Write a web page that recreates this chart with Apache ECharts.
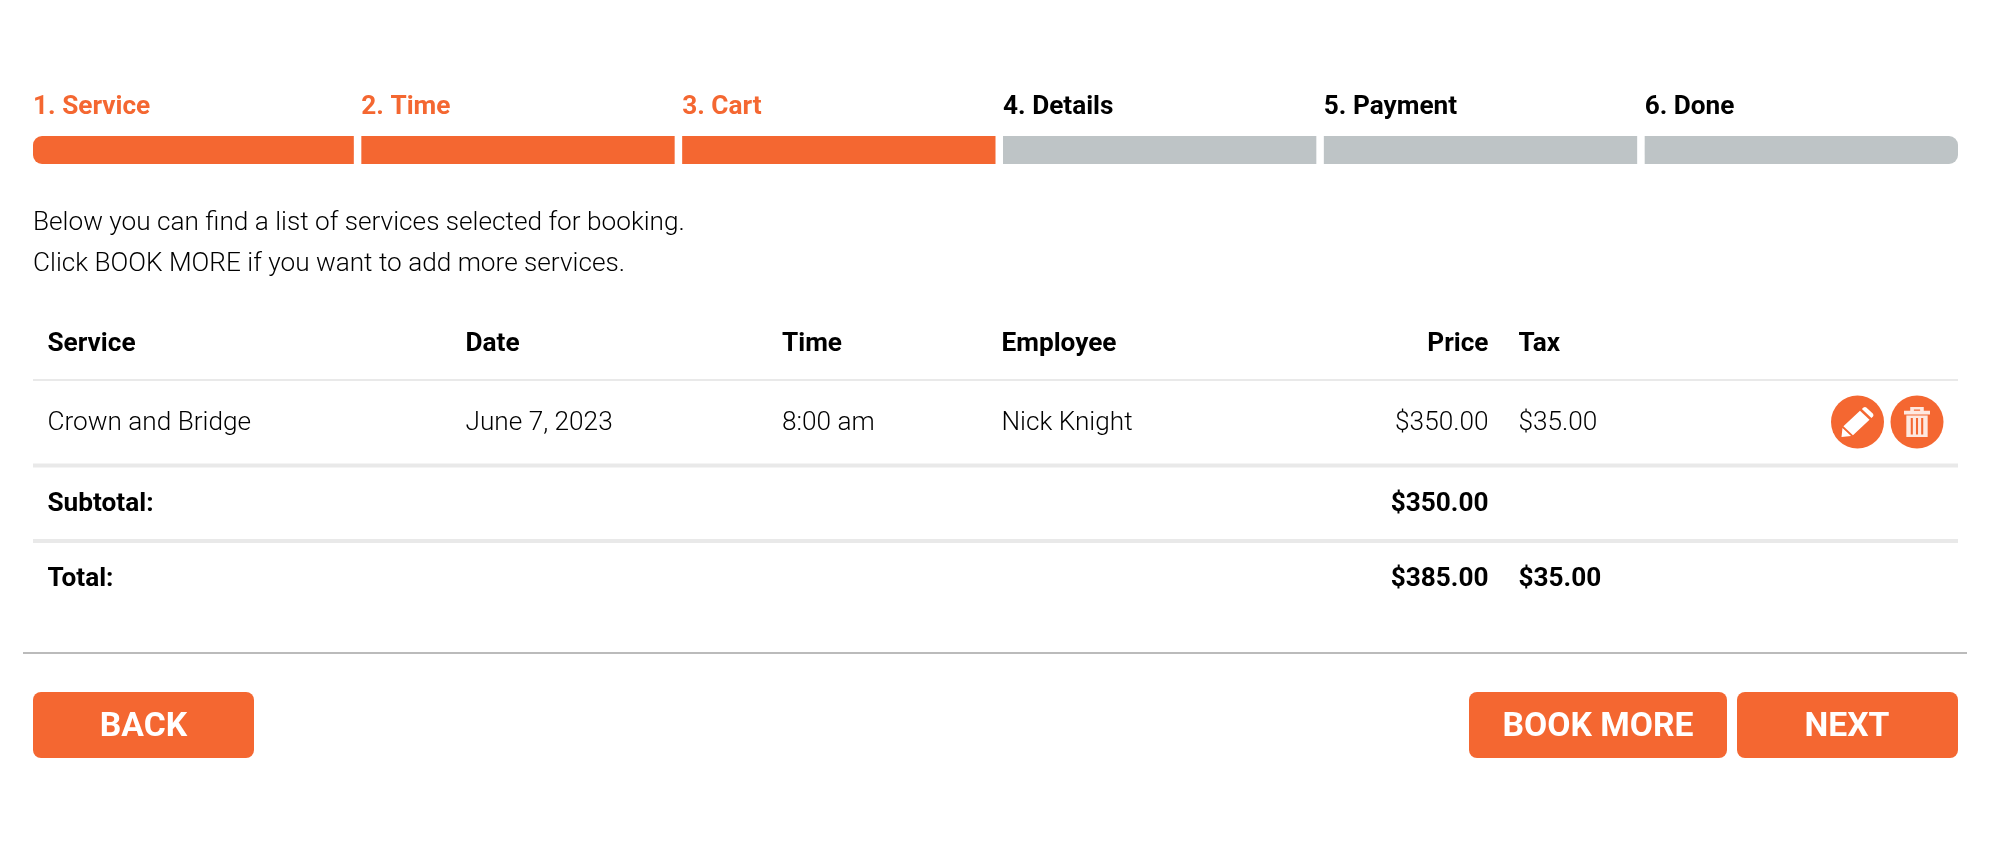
<!DOCTYPE html>
<html>
<head>
<meta charset="utf-8">
<title>Booking cart</title>
<script src="https://cdn.jsdelivr.net/npm/echarts@6/dist/echarts.min.js"></script>
<style>
  html, body { margin: 0; padding: 0; background: #fff; }
  #chart { width: 2000px; height: 862px; }
</style>
</head>
<body>
<div id="chart"></div>
<script>
// data
const stepLabels = ['1. Service', '2. Time', '3. Cart', '4. Details', '5. Payment', '6. Done']
const stepsDone = [true, true, true, false, false, false]
const introLines = [
  'Below you can find a list of services selected for booking.',
  'Click BOOK MORE if you want to add more services.'
]
const tableHeader = ['Service', 'Date', 'Time', 'Employee', 'Price', 'Tax']
const tableItem = ['Crown and Bridge', 'June 7, 2023', '8:00 am', 'Nick Knight', '$350.00', '$35.00']
const tableSubtotal = ['Subtotal:', '', '', '', '$350.00', '']
const tableTotal = ['Total:', '', '', '', '$385.00', '$35.00']
const buttonLabels = ['BACK', 'BOOK MORE', 'NEXT']

// colours and layout
const ORANGE = '#f46731'
const GREY = '#bec4c6'
const FONT = 'Roboto'
const TEXT_SIZE = 26.2

const columnX = [47.5, 465.5, 782, 1001.5, 1488.5, 1518.5]
const columnAlign = ['left', 'left', 'left', 'left', 'right', 'left']
const rowY = [344.5, 423.5, 504, 579.5]
const rowWeight = [700, 300, 700, 700]
const tableRows = [tableHeader, tableItem, tableSubtotal, tableTotal]

const introY = [223.5, 264.5]
const rules = [
  { x1: 33, x2: 1958, y: 380, size: 2, color: '#e9e9e9' },
  { x1: 33, x2: 1958, y: 465.5, size: 4, color: '#e9e9e9' },
  { x1: 33, x2: 1958, y: 541, size: 4, color: '#e9e9e9' },
  { x1: 23, x2: 1967, y: 653, size: 2, color: '#bbbbbb' }
]
const buttonBoxes = [
  { x1: 33, x2: 254, cx: 143.5 },
  { x1: 1469, x2: 1727, cx: 1598 },
  { x1: 1737, x2: 1958, cx: 1847 }
]
const BUTTON_TOP = 692
const BUTTON_BOTTOM = 758
const actionIcons = [
  {
    x: 1857.5, y: 422, w: 32, h: 30, opacity: 1,
    path: 'M6 64L58 12L88 42L36 94ZM0 100L3 70L30 97ZM64 6L69 1Q74-2 78 1L99 22Q102 27 99 31L94 36Z'
  },
  {
    x: 1917, y: 422, w: 26, h: 30, opacity: 0.85,
    path: 'M0 15H100V30H0ZM24 15V0H76V15H62V10H38V15ZM9 34H91V120H9ZM26 44V110H34V44ZM46 44V110H54V44ZM66 44V110H74V44Z'
  }
]

// cells flattened for the table series
const cells = []
tableRows.forEach((row, r) => {
  row.forEach((text, c) => {
    if (text) cells.push({ text, c, r })
  })
})

const chart = echarts.init(document.getElementById('chart'))

const textStyle = (text, x, y, size, weight, color, align) => ({
  type: 'text',
  style: {
    text, x, y,
    fill: color,
    font: `${weight} ${size}px ${FONT}`,
    align: align || 'left',
    verticalAlign: 'middle'
  }
})

chart.setOption({
  animation: false,
  backgroundColor: '#ffffff',
  grid: [
    { left: 0, right: 0, top: 0, bottom: 0 },
    { left: 33, width: 1925, top: 136, height: 28 }
  ],
  xAxis: [
    { type: 'value', gridIndex: 0, min: 0, max: 2000, show: false },
    { type: 'category', gridIndex: 1, data: stepLabels, show: false }
  ],
  yAxis: [
    { type: 'value', gridIndex: 0, min: 0, max: 862, inverse: true, show: false },
    { type: 'value', gridIndex: 1, min: 0, max: 1, show: false }
  ],
  series: [
    {
      // progress steps
      type: 'custom',
      xAxisIndex: 1,
      yAxisIndex: 1,
      data: stepLabels.map((_, i) => [i, 1]),
      renderItem(params, api) {
        const i = params.dataIndex
        const band = api.size([1, 0])[0]
        const top = api.coord([i, 1])
        const bottom = api.coord([i, 0])
        const gap = i === 0 ? 0 : 7.5
        const left = top[0] - band / 2 + gap
        const width = band - gap
        const r = i === 0 ? [9, 0, 0, 9] : i === stepLabels.length - 1 ? [0, 9, 9, 0] : 0
        const done = stepsDone[i]
        return {
          type: 'group',
          children: [
            {
              type: 'rect',
              shape: { x: left, y: top[1], width, height: bottom[1] - top[1], r },
              style: { fill: done ? ORANGE : GREY }
            },
            textStyle(stepLabels[i], left, top[1] - 29, TEXT_SIZE, 700, done ? ORANGE : '#000000')
          ]
        }
      }
    },
    {
      // intro text
      type: 'custom',
      data: introLines.map((_, i) => [33, introY[i]]),
      renderItem(params, api) {
        const p = api.coord([api.value(0), api.value(1)])
        return textStyle(introLines[params.dataIndex], p[0], p[1], TEXT_SIZE, 300, '#000000')
      }
    },
    {
      // table cells
      type: 'custom',
      data: cells.map(cell => [columnX[cell.c], rowY[cell.r]]),
      renderItem(params, api) {
        const cell = cells[params.dataIndex]
        const p = api.coord([api.value(0), api.value(1)])
        return textStyle(cell.text, p[0], p[1], TEXT_SIZE, rowWeight[cell.r], '#000000', columnAlign[cell.c])
      }
    },
    {
      // separators
      type: 'custom',
      data: rules.map(rule => [rule.x1, rule.y, rule.x2]),
      renderItem(params, api) {
        const rule = rules[params.dataIndex]
        const a = api.coord([api.value(0), api.value(1)])
        const b = api.coord([api.value(2), api.value(1)])
        return {
          type: 'rect',
          shape: { x: a[0], y: a[1] - rule.size / 2, width: b[0] - a[0], height: rule.size },
          style: { fill: rule.color }
        }
      }
    },
    {
      // edit and delete buttons
      type: 'custom',
      data: actionIcons.map(icon => [icon.x, icon.y]),
      renderItem(params, api) {
        const icon = actionIcons[params.dataIndex]
        const p = api.coord([api.value(0), api.value(1)])
        return {
          type: 'group',
          children: [
            { type: 'circle', shape: { cx: p[0], cy: p[1], r: 26.5 }, style: { fill: ORANGE } },
            {
              type: 'path',
              shape: {
                pathData: icon.path,
                layout: 'cover',
                x: p[0] - icon.w / 2,
                y: p[1] - icon.h / 2,
                width: icon.w,
                height: icon.h
              },
              style: { fill: '#ffffff', opacity: icon.opacity }
            }
          ]
        }
      }
    },
    {
      // footer buttons
      type: 'custom',
      data: buttonBoxes.map(box => [box.x1, BUTTON_TOP, box.x2, BUTTON_BOTTOM]),
      renderItem(params, api) {
        const box = buttonBoxes[params.dataIndex]
        const a = api.coord([api.value(0), api.value(1)])
        const b = api.coord([api.value(2), api.value(3)])
        return {
          type: 'group',
          children: [
            {
              type: 'rect',
              shape: { x: a[0], y: a[1], width: b[0] - a[0], height: b[1] - a[1], r: 8 },
              style: { fill: ORANGE }
            },
            textStyle(buttonLabels[params.dataIndex], box.cx, (a[1] + b[1]) / 2 + 2.5, 33.7, 700, '#ffffff', 'center')
          ]
        }
      }
    }
  ]
})

window.addEventListener('resize', () => chart.resize())
</script>
</body>
</html>
